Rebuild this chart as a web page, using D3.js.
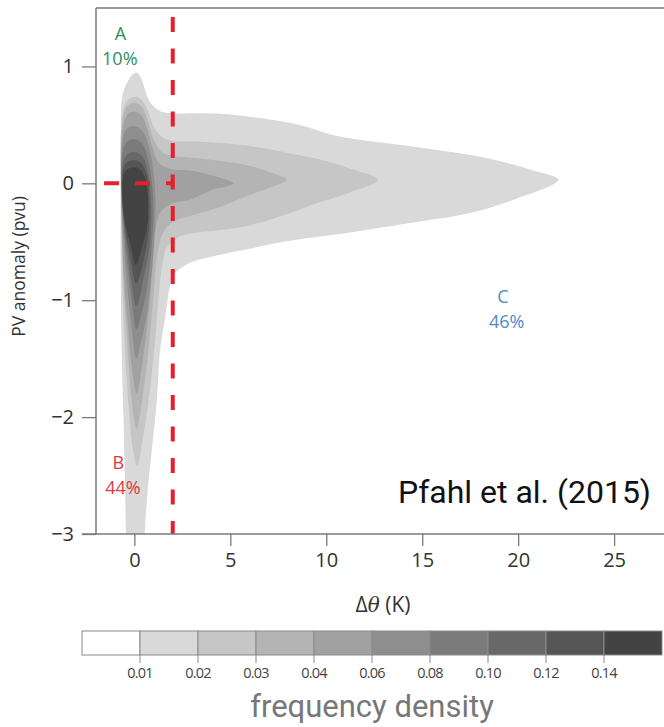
<!DOCTYPE html>
<html>
<head>
<meta charset="utf-8">
<script src="https://cdn.jsdelivr.net/npm/d3@7"></script>
<style>
  html, body { margin: 0; padding: 0; background: #fff; }
  svg { display: block; }
</style>
</head>
<body>
<svg id="chart" width="664" height="727"></svg>
<script>
// Filled-contour levels (frequency density) and their shades
const thresholds = [0.01, 0.02, 0.03, 0.04, 0.06, 0.08, 0.10, 0.12, 0.14];
const thresholdLabels = ["0.01", "0.02", "0.03", "0.04", "0.06", "0.08", "0.10", "0.12", "0.14"];
const shades = ["#ffffff", "#d9d9d9", "#c6c6c6", "#b4b4b4", "#a1a1a1", "#8e8e8e", "#7b7b7b", "#686868", "#555555", "#434343"];

// Axis ticks
const xTicks = [0, 5, 10, 15, 20, 25];
const yTicks = [1, 0, -1, -2, -3];

// Contour boundaries, [Δθ (K), PV anomaly (pvu)], one closed ring per density level
const ring001 = [[-0.71, 0.45], [-0.62, 0.76], [-0.35, 0.87], [-0.14, 0.925], [0.1, 0.948], [0.32, 0.91], [0.5, 0.83], [0.7, 0.73], [1.0, 0.66], [1.4, 0.615], [2.0, 0.60], [3.4, 0.60], [4.5, 0.595], [6.0, 0.57], [8.6, 0.50], [10.7, 0.40], [14.7, 0.31], [18.2, 0.22], [20.8, 0.11], [22.1, 0.03], [19.95, -0.13], [17.3, -0.26], [14.7, -0.33], [11.2, -0.42], [7.75, -0.50], [6.0, -0.56], [3.95, -0.63], [2.9, -0.68], [2.12, -0.77], [1.86, -0.88], [1.6, -1.15], [1.34, -1.43], [1.17, -1.86], [0.91, -2.28], [0.65, -2.71], [0.52, -3.05], [0.45, -3.3], [-0.4, -3.3], [-0.44, -3.0], [-0.49, -2.57], [-0.57, -2.0], [-0.66, -1.43], [-0.72, -0.57], [-0.72, 0.2]];
const ring002 = [[-0.69, 0.45], [-0.55, 0.65], [-0.3, 0.72], [0.1, 0.74], [0.45, 0.7], [0.75, 0.6], [1.05, 0.47], [1.5, 0.39], [2.0, 0.365], [2.9, 0.36], [4.5, 0.345], [6.0, 0.32], [8.0, 0.26], [9.5, 0.21], [11.2, 0.13], [12.7, 0.03], [11.2, -0.08], [9.5, -0.17], [8.0, -0.26], [6.0, -0.36], [4.5, -0.40], [2.9, -0.43], [2.2, -0.47], [1.7, -0.55], [1.45, -0.7], [1.25, -1.0], [1.05, -1.4], [0.75, -1.85], [0.42, -2.2], [0.15, -2.42], [-0.1, -2.25], [-0.3, -1.9], [-0.5, -1.4], [-0.62, -0.9], [-0.69, -0.2]];
const ring003 = [[-0.68, 0.4], [-0.55, 0.6], [-0.3, 0.67], [0.1, 0.69], [0.45, 0.64], [0.72, 0.52], [1.0, 0.38], [1.4, 0.27], [2.0, 0.235], [2.9, 0.22], [4.5, 0.19], [6.0, 0.15], [7.0, 0.1], [7.95, 0.03], [7.0, -0.04], [6.0, -0.1], [4.5, -0.2], [2.9, -0.28], [2.0, -0.33], [1.5, -0.42], [1.2, -0.6], [1.0, -0.95], [0.75, -1.4], [0.45, -1.8], [0.12, -2.1], [-0.15, -1.85], [-0.35, -1.4], [-0.55, -0.9], [-0.68, -0.2]];
const ring004 = [[-0.67, 0.35], [-0.55, 0.52], [-0.3, 0.6], [0.1, 0.61], [0.45, 0.56], [0.7, 0.45], [0.95, 0.3], [1.3, 0.17], [2.0, 0.12], [2.9, 0.11], [4.0, 0.07], [5.16, 0.0], [4.0, -0.06], [2.9, -0.14], [2.0, -0.17], [1.4, -0.24], [1.1, -0.4], [0.95, -0.7], [0.75, -1.1], [0.45, -1.5], [0.12, -1.8], [-0.15, -1.55], [-0.35, -1.2], [-0.55, -0.8], [-0.67, -0.2]];
const ring006 = [[-0.66, 0.3], [-0.55, 0.42], [-0.3, 0.48], [0.1, 0.485], [0.45, 0.44], [0.78, 0.3], [1.0, 0.1], [1.1, -0.15], [1.05, -0.45], [0.88, -0.8], [0.62, -1.15], [0.35, -1.35], [0.1, -1.5], [-0.1, -1.3], [-0.3, -1.0], [-0.5, -0.65], [-0.66, -0.2]];
const ring008 = [[-0.65, 0.22], [-0.5, 0.33], [-0.25, 0.37], [0.1, 0.375], [0.45, 0.33], [0.72, 0.2], [0.92, 0.0], [1.0, -0.25], [0.92, -0.5], [0.74, -0.8], [0.47, -1.05], [0.1, -1.25], [-0.1, -1.05], [-0.3, -0.8], [-0.5, -0.5], [-0.65, -0.15]];
const ring010 = [[-0.64, 0.12], [-0.5, 0.22], [-0.25, 0.26], [0.1, 0.265], [0.45, 0.22], [0.7, 0.1], [0.85, -0.1], [0.88, -0.3], [0.78, -0.55], [0.5, -0.8], [0.1, -1.05], [-0.15, -0.85], [-0.35, -0.6], [-0.55, -0.35], [-0.64, -0.1]];
const ring012 = [[-0.63, 0.08], [-0.5, 0.16], [-0.25, 0.19], [0.1, 0.195], [0.42, 0.16], [0.66, 0.06], [0.78, -0.15], [0.76, -0.37], [0.58, -0.58], [0.1, -0.86], [-0.2, -0.64], [-0.45, -0.42], [-0.63, -0.15]];
const ring014 = [[-0.62, 0.02], [-0.5, 0.1], [-0.25, 0.13], [0.1, 0.135], [0.4, 0.1], [0.62, 0.0], [0.72, -0.2], [0.66, -0.38], [0.42, -0.53], [0.08, -0.7], [-0.2, -0.52], [-0.45, -0.37], [-0.62, -0.15]];
const rings = [ring001, ring002, ring003, ring004, ring006, ring008, ring010, ring012, ring014];

// Regime threshold lines (dashed)
const thetaThreshold = 2;
const pvThresholdStart = -1.58;

// Regime labels (name line and share line positions)
const regimes = [
  { name: "A", share: "10%", x: -0.72, xShare: -0.76, y: 1.23, color: "#2f8f60" },
  { name: "B", share: "44%", x: -0.84, xShare: -0.6, y: -2.44, color: "#e0393f" },
  { name: "C", share: "46%", x: 19.2, xShare: 19.4, y: -1.02, color: "#4f8bc6" }
];

const sans = "'Open Sans', 'Noto Sans', sans-serif";
const svg = d3.select("#chart");
const x = d3.scaleLinear().domain([-2, 27.6]).range([96, 664]);
const y = d3.scaleLinear().domain([-3, 1.5]).range([534, 8]);

svg.append("clipPath").attr("id", "plotClip")
  .append("rect")
  .attr("x", x(-2)).attr("y", y(1.5))
  .attr("width", x(27.6) - x(-2)).attr("height", y(-3) - y(1.5));

const plot = svg.append("g").attr("clip-path", "url(#plotClip)");

const ringPath = d3.line()
  .x(d => x(d[0]))
  .y(d => y(d[1]))
  .curve(d3.curveCatmullRomClosed.alpha(0.5));

plot.selectAll("path.level")
  .data(rings)
  .join("path")
  .attr("class", "level")
  .attr("d", ringPath)
  .attr("fill", (d, i) => shades[i + 1])
  .attr("stroke", "none");

// Dashed threshold lines
const red = "#e5202b";
plot.append("line")
  .attr("x1", x(thetaThreshold)).attr("x2", x(thetaThreshold))
  .attr("y1", y(1.5) + 9).attr("y2", y(-3))
  .attr("stroke", red).attr("stroke-width", 4)
  .attr("stroke-dasharray", "15,16.5");
plot.append("line")
  .attr("x1", x(pvThresholdStart)).attr("x2", x(thetaThreshold))
  .attr("y1", y(0)).attr("y2", y(0))
  .attr("stroke", red).attr("stroke-width", 4)
  .attr("stroke-dasharray", "15,16");

// Frame: left, top and bottom lines
const axisColor = "#7a7a7a";
svg.append("line").attr("x1", x(-2)).attr("x2", 664).attr("y1", y(1.5)).attr("y2", y(1.5))
  .attr("stroke", axisColor).attr("stroke-width", 1.5);
svg.append("line").attr("x1", x(-2)).attr("x2", x(-2)).attr("y1", y(1.5)).attr("y2", y(-3))
  .attr("stroke", axisColor).attr("stroke-width", 1.5);
svg.append("line").attr("x1", 82).attr("x2", 664).attr("y1", y(-3)).attr("y2", y(-3))
  .attr("stroke", axisColor).attr("stroke-width", 1.5);

// Axes
const xAxis = svg.append("g").attr("transform", `translate(0,${y(-3)})`)
  .call(d3.axisBottom(x).tickValues(xTicks).tickSize(12).tickPadding(7).tickFormat(d3.format("d")));
const yAxis = svg.append("g").attr("transform", `translate(${x(-2)},0)`)
  .call(d3.axisLeft(y).tickValues(yTicks).tickSize(14).tickPadding(8)
    .tickFormat(d => d < 0 ? "\u2212" + Math.abs(d) : String(d)));
[xAxis, yAxis].forEach(g => {
  g.select(".domain").remove();
  g.selectAll(".tick line").attr("stroke", axisColor).attr("stroke-width", 1.3);
  g.selectAll(".tick text").attr("fill", "#333").attr("font-size", 20)
    .attr("font-family", sans);
});

// Axis titles
svg.append("text")
  .attr("transform", `translate(25,${y(-0.71)}) rotate(-90)`)
  .attr("text-anchor", "middle").attr("font-size", 17.5).attr("fill", "#333")
  .attr("font-family", sans)
  .text("PV anomaly (pvu)");
const xTitle = svg.append("text")
  .attr("x", 383).attr("y", 612)
  .attr("text-anchor", "middle").attr("font-size", 21).attr("fill", "#333")
  .attr("font-family", sans);
xTitle.append("tspan").text("\u0394");
xTitle.append("tspan").attr("font-style", "italic").attr("font-family", "'DejaVu Serif', serif").attr("font-size", 20).text("\u03b8");
xTitle.append("tspan").text(" (K)");

// Regime labels
regimes.forEach(r => {
  svg.append("text")
    .attr("x", x(r.x)).attr("y", y(r.y))
    .attr("text-anchor", "middle").attr("fill", r.color)
    .attr("font-family", sans).attr("font-size", 18)
    .text(r.name);
  svg.append("text")
    .attr("x", x(r.xShare)).attr("y", y(r.y) + 25)
    .attr("text-anchor", "middle").attr("fill", r.color)
    .attr("font-family", sans).attr("font-size", 18)
    .text(r.share);
});

// Reference
svg.append("text")
  .attr("x", 651).attr("y", 503).attr("text-anchor", "end")
  .attr("font-family", "Roboto, sans-serif").attr("font-size", 32).attr("fill", "#111")
  .text("Pfahl et al. (2015)");

// Colour bar
const cb = d3.scaleBand().domain(d3.range(shades.length)).range([82, 662]).paddingInner(0).paddingOuter(0);
const cbTop = 631, cbH = 24;
const cbar = svg.append("g");
cbar.selectAll("rect")
  .data(shades)
  .join("rect")
  .attr("x", (d, i) => cb(i)).attr("y", cbTop)
  .attr("width", cb.bandwidth()).attr("height", cbH)
  .attr("fill", d => d).attr("stroke", "#8a8a8a").attr("stroke-width", 1);
cbar.selectAll("line.cbtick")
  .data(thresholds)
  .join("line").attr("class", "cbtick")
  .attr("x1", (d, i) => cb(i + 1)).attr("x2", (d, i) => cb(i + 1))
  .attr("y1", cbTop + cbH).attr("y2", cbTop + cbH + 8)
  .attr("stroke", "#8a8a8a").attr("stroke-width", 1);
cbar.selectAll("text.cblabel")
  .data(thresholdLabels)
  .join("text").attr("class", "cblabel")
  .attr("x", (d, i) => cb(i + 1)).attr("y", 678)
  .attr("text-anchor", "middle").attr("font-size", 14.5).attr("fill", "#444")
  .attr("font-family", sans).attr("letter-spacing", -0.8)
  .text(d => d);
svg.append("text")
  .attr("x", 372).attr("y", 717).attr("text-anchor", "middle")
  .attr("font-family", "Roboto, sans-serif").attr("font-size", 31).attr("fill", "#777")
  .text("frequency density");
</script>
</body>
</html>
